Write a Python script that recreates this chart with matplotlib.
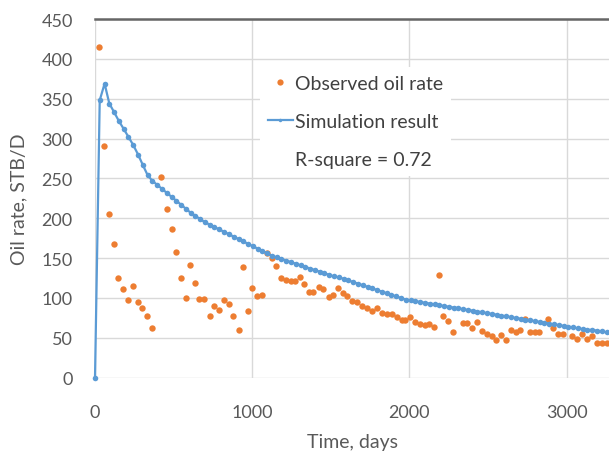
import matplotlib.pyplot as plt
from matplotlib.lines import Line2D

plt.rcParams['font.family'] = ['Lato', 'DejaVu Sans']

# simulation result (monthly)
sim_days = [0, 30, 61, 91, 122, 152, 183, 213, 243, 274, 304, 335,
            365, 395, 426, 456, 487, 517, 548, 578, 608, 639, 669, 700,
            730, 760, 791, 821, 852, 882, 913, 943, 973, 1004, 1034, 1065,
            1095, 1125, 1156, 1186, 1217, 1247, 1278, 1308, 1338, 1369, 1399, 1430,
            1460, 1490, 1521, 1551, 1582, 1612, 1643, 1673, 1703, 1734, 1764, 1795,
            1825, 1855, 1886, 1916, 1947, 1977, 2008, 2038, 2068, 2099, 2129, 2160,
            2190, 2220, 2251, 2281, 2312, 2342, 2373, 2403, 2433, 2464, 2494, 2525,
            2555, 2585, 2616, 2646, 2677, 2707, 2738, 2768, 2798, 2829, 2859, 2890,
            2920, 2950, 2981, 3011, 3042, 3072, 3103, 3133, 3163, 3194, 3224, 3255,
            3285, 3315, 3346]
sim_rate = [0, 348, 369, 344, 333, 322, 312, 302, 292, 280, 267, 254,
            247, 242, 237, 232, 227, 222, 217, 212, 207, 203, 199, 195,
            192, 189, 186, 183, 180, 177, 174, 171, 168, 165, 162, 159,
            156, 153, 151, 149, 147, 145, 143, 141, 139, 137, 135, 133,
            131, 129, 127, 126, 124, 122, 120, 118, 116, 114, 112, 110,
            108, 106, 104, 102, 100, 98, 97, 96, 95, 94, 93, 92,
            91, 90, 89, 88, 87, 86, 85, 84, 83, 82, 81, 80,
            79, 78, 77, 76, 75, 74, 73, 72, 71, 70, 69, 68,
            67, 66, 65, 64, 63, 62, 61, 60, 60, 59, 58, 57,
            57, 56, 56]

# observed oil rate
obs_days = [25, 57, 91, 123, 148, 180, 212, 240, 272, 299, 333, 363,
            420, 456, 488, 515, 547, 579, 604, 638, 663, 695, 732, 759,
            789, 821, 852, 880, 914, 943, 971, 1001, 1029, 1060, 1092, 1124,
            1151, 1183, 1215, 1245, 1272, 1304, 1331, 1363, 1389, 1425, 1452, 1487,
            1516, 1548, 1576, 1605, 1637, 1669, 1697, 1728, 1760, 1792, 1824, 1856,
            1887, 1919, 1951, 1972, 2004, 2036, 2067, 2099, 2127, 2157, 2188, 2216,
            2247, 2277, 2338, 2365, 2400, 2428, 2460, 2492, 2523, 2551, 2583, 2615,
            2644, 2676, 2704, 2735, 2767, 2799, 2826, 2884, 2915, 2947, 2979, 3036,
            3064, 3096, 3128, 3160, 3191, 3223, 3255]
obs_rate = [415, 291, 205, 168, 125, 111, 97, 115, 95, 87, 77, 62,
            252, 212, 186, 158, 125, 100, 142, 119, 99, 99, 77, 90,
            85, 97, 93, 78, 60, 139, 84, 112, 102, 104, 157, 150,
            140, 125, 123, 121, 121, 126, 118, 108, 108, 114, 111, 101,
            104, 112, 106, 102, 96, 95, 90, 88, 84, 87, 81, 80,
            80, 76, 73, 72, 76, 70, 67, 66, 68, 64, 129, 77,
            71, 57, 69, 69, 62, 70, 58, 55, 52, 47, 53, 47,
            60, 57, 60, 74, 57, 57, 57, 74, 62, 55, 55, 52,
            48, 55, 49, 52, 44, 44, 44]

orange = '#ED7D31'
blue = '#5B9BD5'
grey = '#595959'

fig = plt.figure(figsize=(6.09, 4.56), dpi=100)
ax = fig.add_axes([0.156, 0.1695, 0.844, 0.7866])

ax.plot(obs_days, obs_rate, 'o', color=orange, markersize=4.6,
        markeredgewidth=0, clip_on=False, zorder=3)
ax.plot(sim_days, sim_rate, '-o', color=blue, linewidth=1.6, markersize=4,
        markeredgewidth=0, clip_on=False, zorder=4)

ax.set_xlim(0, 3270)
ax.set_ylim(0, 450)
ax.set_xticks([0, 1000, 2000, 3000])
ax.set_yticks(range(0, 451, 50))
ax.grid(True, color='#D9D9D9', linewidth=1)
ax.set_axisbelow(True)
ax.tick_params(length=0, labelsize=13, labelcolor=grey)
ax.tick_params(axis='y', pad=16)
ax.tick_params(axis='x', pad=19)

for s in ['left', 'right', 'bottom']:
    ax.spines[s].set_visible(False)
ax.spines['top'].set_color('#666666')
ax.spines['top'].set_linewidth(1.8)

ax.set_xlabel('Time, days', fontsize=14, color=grey, labelpad=9)
ax.set_ylabel('Oil rate, STB/D', fontsize=14, color=grey, labelpad=10)

handles = [
    Line2D([], [], linestyle='none', marker='o', color=orange, markersize=4.5, markeredgewidth=0),
    Line2D([], [], color=blue, linewidth=1.6, marker='o', markersize=2.5, markeredgewidth=0),
    Line2D([], [], linestyle='none'),
]
labels = ['Observed oil rate', 'Simulation result', 'R-square = 0.72']
leg = ax.legend(handles, labels, loc='upper left',
                bbox_to_anchor=(260 / 609, 1 - 68 / 456),
                bbox_transform=fig.transFigure, fontsize=14,
                frameon=True, facecolor='white', edgecolor='none', framealpha=1,
                handlelength=1.3, handletextpad=0.1, labelspacing=1.08,
                borderpad=0.4, borderaxespad=0, fancybox=False)
for t in leg.get_texts():
    t.set_color('#404040')

fig.savefig('out.png', dpi=100)
